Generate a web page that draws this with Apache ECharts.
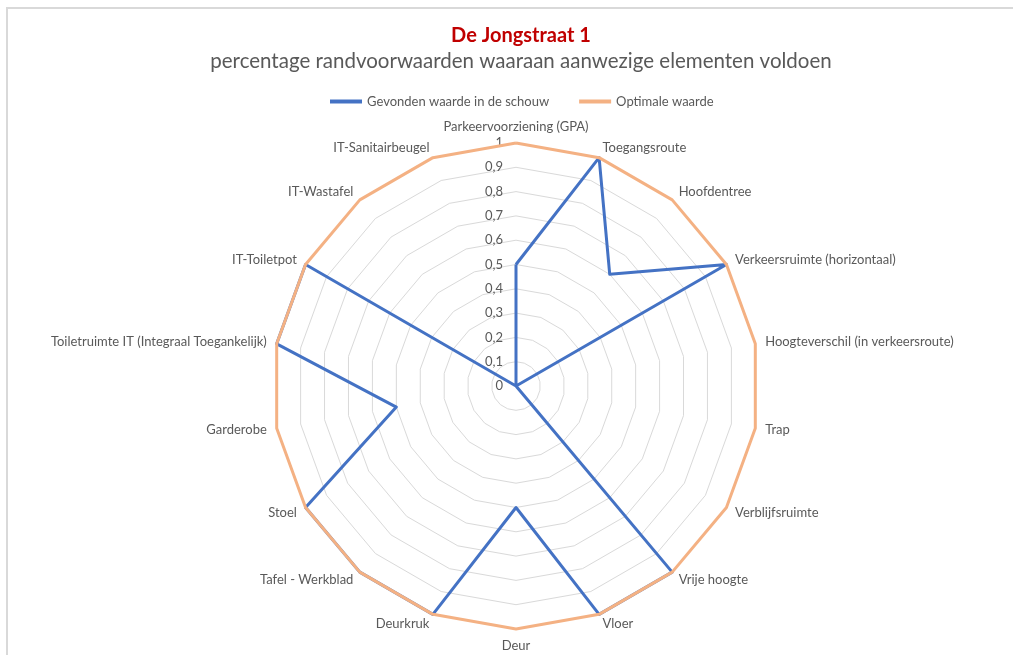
<!DOCTYPE html>
<html>
<head>
<meta charset="utf-8">
<script src="https://cdn.jsdelivr.net/npm/echarts@6/dist/echarts.min.js"></script>
<style>
  html, body { margin: 0; padding: 0; background: #fff; }
  #chart { width: 1013px; height: 655px; }
</style>
</head>
<body>
<div id="chart"></div>
<script>
const titleText = 'De Jongstraat 1';
const subtitleText = 'percentage randvoorwaarden waaraan aanwezige elementen voldoen';

// indicators, clockwise from the top
const categories = [
  'Parkeervoorziening (GPA)', 'Toegangsroute', 'Hoofdentree', 'Verkeersruimte (horizontaal)',
  'Hoogteverschil (in verkeersroute)', 'Trap', 'Verblijfsruimte', 'Vrije hoogte', 'Vloer',
  'Deur', 'Deurkruk', 'Tafel - Werkblad', 'Stoel', 'Garderobe',
  'Toiletruimte IT (Integraal Toegankelijk)', 'IT-Toiletpot', 'IT-Wastafel', 'IT-Sanitairbeugel'
];
const gevonden = [0.5, 1, 0.6, 1, 0, 0, 0, 1, 1, 0.5, 1, 1, 1, 0.5, 1, 1, 0, 0];
const optimaal = [1, 1, 1, 1, 1, 1, 1, 1, 1, 1, 1, 1, 1, 1, 1, 1, 1, 1];
const seriesNames = ['Gevonden waarde in de schouw', 'Optimale waarde'];

const FONT = 'Lato';
const GREY = '#595959';
const CX = 516;

// echarts lays radar axes out counter-clockwise, so flip everything after the first
const cw = arr => [arr[0], ...arr.slice(1).reverse()];

const indicator = cw(categories).map((name, i) => {
  const ind = { name: name, min: 0, max: 1 };
  if (i === 0) {
    ind.axisLabel = {
      show: true,
      color: GREY,
      fontFamily: FONT,
      fontSize: 13,
      margin: 13,
      formatter: v => String(+v.toFixed(1)).replace('.', ',')
    };
  }
  return ind;
});

const chart = echarts.init(document.getElementById('chart'), null, { renderer: 'canvas' });

chart.setOption({
  animation: false,
  backgroundColor: '#fff',
  graphic: [{
    type: 'rect',
    shape: { x: 7, y: 8, width: 1100, height: 700 },
    style: { fill: 'none', stroke: '#D9D9D9', lineWidth: 2 },
    silent: true
  }],
  title: [{
    text: titleText,
    left: CX,
    textAlign: 'center',
    top: 21,
    textStyle: { color: '#C00000', fontFamily: FONT, fontSize: 20, fontWeight: 'bold' }
  }, {
    text: subtitleText,
    left: CX,
    textAlign: 'center',
    top: 46,
    textStyle: { color: GREY, fontFamily: FONT, fontSize: 20.5, fontWeight: 'normal' }
  }],
  legend: {
    top: 90,
    left: 325,
    itemWidth: 32,
    itemHeight: 4,
    itemGap: 30,
    icon: 'rect',
    textStyle: { color: GREY, fontFamily: FONT, fontSize: 13 },
    data: seriesNames
  },
  radar: {
    center: [CX, 386],
    radius: 243,
    startAngle: 90,
    shape: 'polygon',
    splitNumber: 10,
    nameGap: 10,
    axisName: { color: GREY, fontFamily: FONT, fontSize: 13 },
    axisLine: { show: false },
    axisTick: { show: false },
    axisLabel: { show: false },
    splitArea: { show: false },
    splitLine: { lineStyle: { color: '#D9D9D9', width: 1 } },
    indicator: indicator
  },
  series: [{
    name: seriesNames[0],
    type: 'radar',
    symbol: 'none',
    itemStyle: { color: '#4472C4' },
    lineStyle: { color: '#4472C4', width: 3 },
    data: [{ name: seriesNames[0], value: cw(gevonden) }]
  }, {
    name: seriesNames[1],
    type: 'radar',
    symbol: 'none',
    itemStyle: { color: '#F4B183' },
    lineStyle: { color: '#F4B183', width: 3 },
    data: [{ name: seriesNames[1], value: cw(optimaal) }]
  }]
});
</script>
</body>
</html>
